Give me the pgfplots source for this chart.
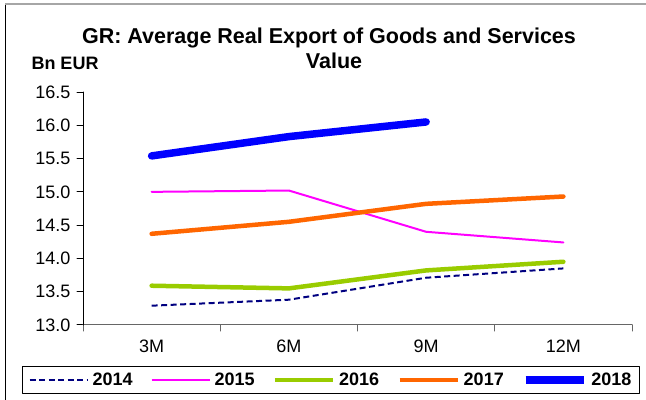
\documentclass[border=0pt]{standalone}
\usepackage{pgfplots}
\pgfplotsset{compat=1.18}
\usepackage{fontspec}
\setmainfont{Liberation Sans}
\definecolor{c14}{RGB}{0,0,128}
\definecolor{c15}{RGB}{255,0,255}
\definecolor{c16}{RGB}{153,204,0}
\definecolor{c17}{RGB}{255,102,0}
\definecolor{c18}{RGB}{0,0,255}
\begin{document}
\begin{tikzpicture}
\useasboundingbox (0bp,0bp) rectangle (646bp,400bp);
\draw[black, line width=1bp] (5bp,0bp) -- (5bp,396bp);
\draw[gray!70, line width=1.2bp] (5bp,396bp) -- (646bp,396bp);
\node[font=\fontsize{21.5bp}{24bp}\selectfont\bfseries] at (329bp,362bp) {GR: Average Real Export of Goods and Services};
\node[font=\fontsize{21.5bp}{24bp}\selectfont\bfseries] at (334bp,339bp) {Value};
\node[anchor=west, font=\fontsize{18bp}{20bp}\selectfont\bfseries] at (28bp,337bp) {Bn EUR};
\begin{axis}[
  at={(83bp,75bp)}, anchor=south west, scale only axis,
  width=549bp, height=233bp,
  xmin=0.5, xmax=4.5, ymin=13, ymax=16.5,
  axis x line*=bottom, axis y line*=left,
  axis line style={-},
  x axis line style={draw=gray!80!black, line width=1bp},
  y axis line style={draw=black, line width=1bp},
  xtick={1,2,3,4}, xticklabels={3M,6M,9M,12M},
  major x tick style={draw=none},
  minor xtick={0.5,1.5,2.5,3.5,4.5},
  minor x tick style={draw=gray!80!black, line width=1bp},
  ytick={13,13.5,14,14.5,15,15.5,16,16.5},
  y tick style={draw=black, line width=1bp},
  tick align=outside,
  major tick length=6bp, minor tick length=6bp,
  yticklabel style={xshift=-3bp, /pgf/number format/.cd, fixed, fixed zerofill, precision=1, assume math mode=true},
  xticklabel style={yshift=-5bp},
  tick label style={font=\fontsize{18bp}{20bp}\selectfont},
  /pgf/number format/assume math mode=true,
  legend columns=5,
  legend style={at={(0.4517,-0.236)}, anchor=center, draw=black, line width=1bp,
    font=\fontsize{18bp}{20bp}\selectfont\bfseries,
    /tikz/every even column/.append style={column sep=16bp},
    /tikz/every odd column/.append style={column sep=2bp},
    inner ysep=4bp, inner xsep=6bp},
  legend image code/.code={\draw[#1] (0bp,0bp) -- (58bp,0bp);},
  line cap=round, line join=round,
]
\addplot[c14, line width=2bp, dash pattern=on 6bp off 3.5bp, line cap=butt] coordinates {(1,13.29) (2,13.38) (3,13.71) (4,13.85)};
\addlegendentry{2014}
\addplot[c15, line width=2bp] coordinates {(1,15.00) (2,15.02) (3,14.40) (4,14.24)};
\addlegendentry{2015}
\addplot[c16, line width=4.5bp] coordinates {(1,13.59) (2,13.55) (3,13.82) (4,13.95)};
\addlegendentry{2016}
\addplot[c17, line width=4.5bp] coordinates {(1,14.37) (2,14.55) (3,14.82) (4,14.93)};
\addlegendentry{2017}
\addplot[c18, line width=7.5bp] coordinates {(1,15.54) (2,15.83) (3,16.05)};
\addlegendentry{2018}
\end{axis}
\end{tikzpicture}
\end{document}
